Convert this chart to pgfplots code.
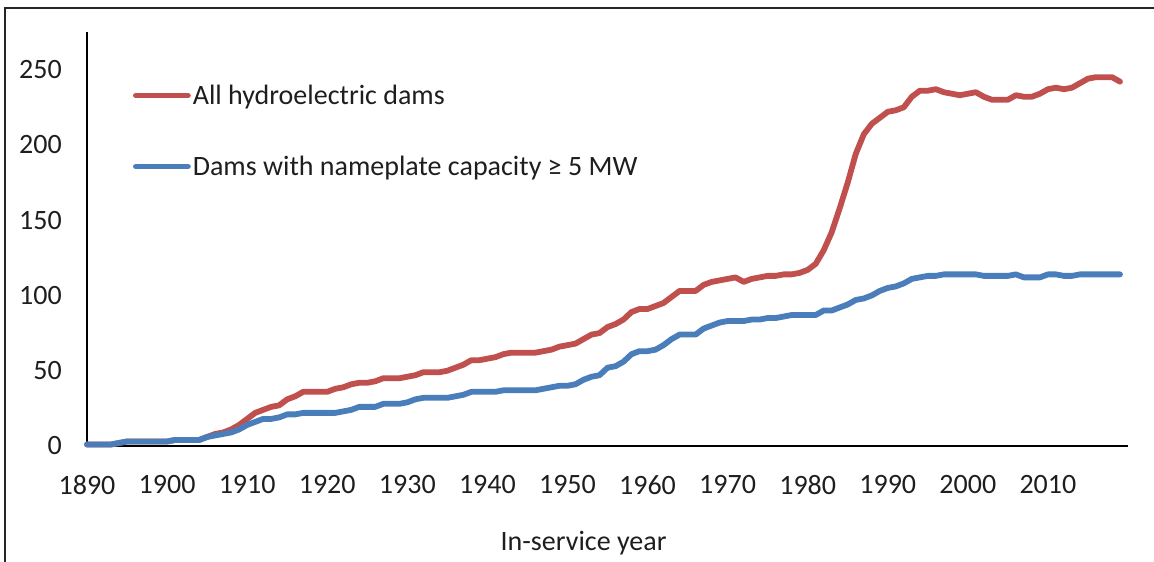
\documentclass[border=0pt]{standalone}
\usepackage{pgfplots}
\pgfplotsset{compat=1.18}
\usepackage{fontspec}
\setmainfont{Carlito}
\definecolor{exred}{RGB}{192,80,77}
\definecolor{exblue}{RGB}{74,126,187}
\definecolor{txt}{RGB}{30,30,30}
\begin{document}
\begin{tikzpicture}
\useasboundingbox (-87pt,-116pt) rectangle (1067pt,446pt);
\draw[line width=1.6pt, black!85] (-82pt,-116pt) -- (-82pt,438pt) -- (1067pt,438pt);
\begin{axis}[
  at={(0pt,0pt)}, anchor=origin,
  scale only axis, width=1041pt, height=414pt,
  xmin=1890, xmax=2020, ymin=0, ymax=275,
  axis x line=bottom, axis y line=left,
  axis line style={line width=1.6pt, -},
  xtick={1890,1900,...,2010}, ytick={0,50,...,250},
  major tick length=0pt,
  xticklabel style={/pgf/number format/1000 sep={}},
  /pgf/number format/assume math mode=true,
  every tick label/.append style={inner sep=0pt, font=\fontsize{28}{33}\selectfont, text=txt},
  xticklabel style={yshift=-29pt},
  yticklabel style={xshift=-25pt},
  legend style={draw=none, fill=none, at={(rel axis cs:0.044,0.877)}, anchor=north west,
    font=\fontsize{28}{33}\selectfont, text=txt, row sep=46pt, inner sep=0pt},
  legend cell align=left,
  legend image code/.code={\draw[#1, line cap=round] (0pt,0pt) -- (52pt,0pt);},
  every axis plot/.append style={line width=5.8pt, line join=round, line cap=round},
  clip=false,
]
\addplot[exred] coordinates {
(1890,1)(1891,1)(1892,1)(1893,1)(1894,2)(1895,3)(1896,3)(1897,3)(1898,3)(1899,3)
(1900,3)(1901,4)(1902,4)(1903,4)(1904,4)(1905,6)(1906,8)(1907,9)(1908,11)(1909,14)
(1910,18)(1911,22)(1912,24)(1913,26)(1914,27)(1915,31)(1916,33)(1917,36)(1918,36)(1919,36)
(1920,36)(1921,38)(1922,39)(1923,41)(1924,42)(1925,42)(1926,43)(1927,45)(1928,45)(1929,45)
(1930,46)(1931,47)(1932,49)(1933,49)(1934,49)(1935,50)(1936,52)(1937,54)(1938,57)(1939,57)
(1940,58)(1941,59)(1942,61)(1943,62)(1944,62)(1945,62)(1946,62)(1947,63)(1948,64)(1949,66)
(1950,67)(1951,68)(1952,71)(1953,74)(1954,75)(1955,79)(1956,81)(1957,84)(1958,89)(1959,91)
(1960,91)(1961,93)(1962,95)(1963,99)(1964,103)(1965,103)(1966,103)(1967,107)(1968,109)(1969,110)
(1970,111)(1971,112)(1972,109)(1973,111)(1974,112)(1975,113)(1976,113)(1977,114)(1978,114)(1979,115)
(1980,117)(1981,121)(1982,130)(1983,142)(1984,158)(1985,175)(1986,194)(1987,207)(1988,214)(1989,218)
(1990,222)(1991,223)(1992,225)(1993,232)(1994,236)(1995,236)(1996,237)(1997,235)(1998,234)(1999,233)
(2000,234)(2001,235)(2002,232)(2003,230)(2004,230)(2005,230)(2006,233)(2007,232)(2008,232)(2009,234)
(2010,237)(2011,238)(2012,237)(2013,238)(2014,241)(2015,244)(2016,245)(2017,245)(2018,245)(2019,242)
};
\addlegendentry{All hydroelectric dams}
\addplot[exblue] coordinates {
(1890,1)(1891,1)(1892,1)(1893,1)(1894,2)(1895,3)(1896,3)(1897,3)(1898,3)(1899,3)
(1900,3)(1901,4)(1902,4)(1903,4)(1904,4)(1905,6)(1906,7)(1907,8)(1908,9)(1909,11)
(1910,14)(1911,16)(1912,18)(1913,18)(1914,19)(1915,21)(1916,21)(1917,22)(1918,22)(1919,22)
(1920,22)(1921,22)(1922,23)(1923,24)(1924,26)(1925,26)(1926,26)(1927,28)(1928,28)(1929,28)
(1930,29)(1931,31)(1932,32)(1933,32)(1934,32)(1935,32)(1936,33)(1937,34)(1938,36)(1939,36)
(1940,36)(1941,36)(1942,37)(1943,37)(1944,37)(1945,37)(1946,37)(1947,38)(1948,39)(1949,40)
(1950,40)(1951,41)(1952,44)(1953,46)(1954,47)(1955,52)(1956,53)(1957,56)(1958,61)(1959,63)
(1960,63)(1961,64)(1962,67)(1963,71)(1964,74)(1965,74)(1966,74)(1967,78)(1968,80)(1969,82)
(1970,83)(1971,83)(1972,83)(1973,84)(1974,84)(1975,85)(1976,85)(1977,86)(1978,87)(1979,87)
(1980,87)(1981,87)(1982,90)(1983,90)(1984,92)(1985,94)(1986,97)(1987,98)(1988,100)(1989,103)
(1990,105)(1991,106)(1992,108)(1993,111)(1994,112)(1995,113)(1996,113)(1997,114)(1998,114)(1999,114)
(2000,114)(2001,114)(2002,113)(2003,113)(2004,113)(2005,113)(2006,114)(2007,112)(2008,112)(2009,112)
(2010,114)(2011,114)(2012,113)(2013,113)(2014,114)(2015,114)(2016,114)(2017,114)(2018,114)(2019,114)
};
\addlegendentry{Dams with nameplate capacity ≥ 5 MW}
\node[font=\fontsize{28}{33}\selectfont, text=txt, anchor=base] at (rel axis cs:0.477,0) [yshift=-104pt] {In-service year};
\end{axis}
\end{tikzpicture}
\end{document}
